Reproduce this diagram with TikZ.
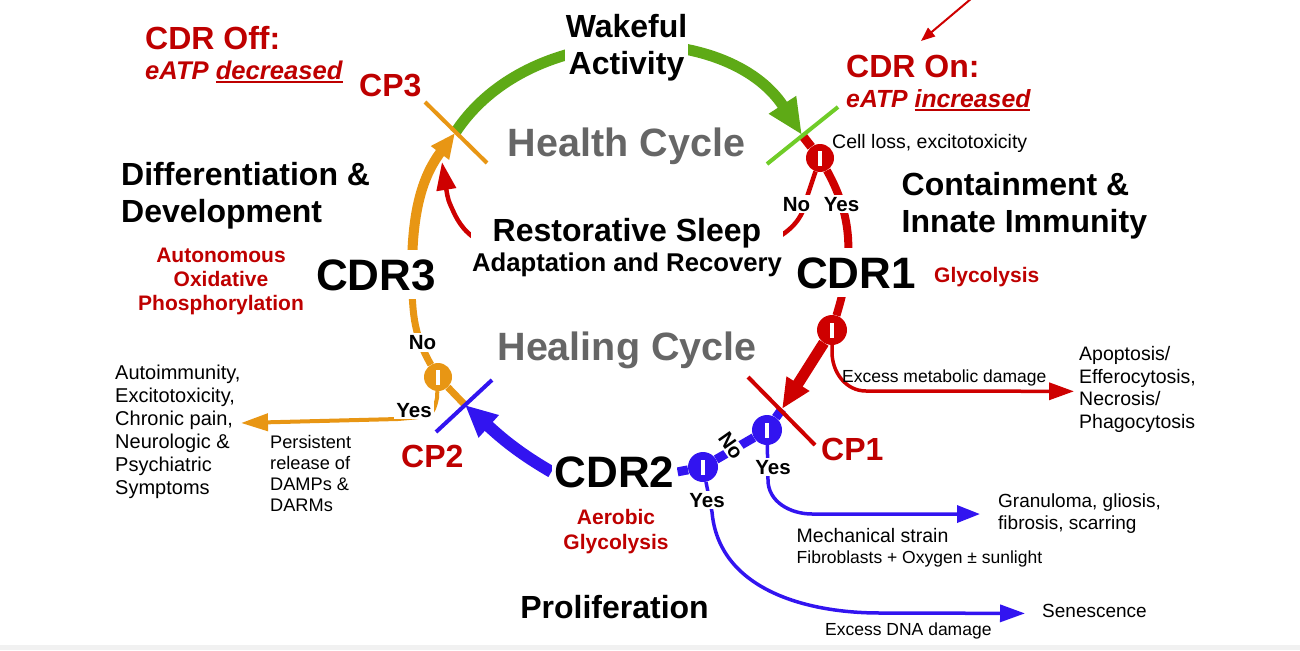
\documentclass[tikz,border=0pt]{standalone}
\usepackage{fontspec}
\setmainfont{Liberation Sans}
\usetikzlibrary{arrows.meta}
\pgfdeclarelayer{bg}
\pgfsetlayers{bg,main}
\definecolor{cred}{RGB}{206,0,0}
\definecolor{tred}{RGB}{190,0,0}
\definecolor{cgreen}{RGB}{94,170,22}
\definecolor{cgreenl}{RGB}{112,204,40}
\definecolor{corange}{RGB}{232,150,20}
\definecolor{cblue}{RGB}{50,20,240}
\definecolor{cgray}{RGB}{102,102,102}
\definecolor{band}{RGB}{241,241,241}
\newcommand{\FS}[2]{\fontsize{#1}{#2}\selectfont}
\newcommand{\myul}[1]{\setbox0=\hbox{#1}\rlap{\rule[-3pt]{\wd0}{1.8pt}}\box0}
\newcommand{\jbar}{\textcolor{white}{\rule[-7.5pt]{4pt}{15pt}}}
\begin{document}
\begin{tikzpicture}[x=1pt,y=1pt,
  txt/.style={inner sep=0pt},
  bigb/.style={inner sep=0pt, font=\bfseries\FS{32}{37}},
  redb/.style={inner sep=0pt, text=tred, font=\bfseries\FS{21}{23.8}},
  cdrn/.style={fill=white, inner xsep=3pt, inner ysep=9pt, font=\bfseries\FS{44}{48}},
  cpn/.style={inner sep=0pt, text=tred, font=\bfseries\FS{32}{36}},
  lbl/.style={fill=white, inner sep=2pt, font=\bfseries\FS{20.5}{24}},
  cyc/.style={inner sep=0pt, text=cgray, font=\bfseries\FS{39.5}{44}},
  jn/.style 2 args={circle, fill=#1, minimum size=#2, inner sep=0pt},
  cpline/.style={line width=4pt},
]
\useasboundingbox (0,0) rectangle (1300,-650);
\fill[band] (0,-645) rectangle (1300,-650);

% ---------- text nodes ----------
\node[cpn, anchor=base west] (cdroff) at (145,-50) {CDR Off:};
\node[txt, anchor=base west, text=tred, font=\bfseries\itshape\FS{25.6}{28}] (eatpd) at (145,-80) {eATP \myul{decreased}};
\node[cpn, anchor=base west] (cdron) at (846,-78) {CDR On:};
\node[txt, anchor=base west, text=tred, font=\bfseries\itshape\FS{24.8}{28}] (eatpi) at (846,-108) {eATP \myul{increased}};
\node[bigb, fill=white, inner sep=1pt, align=center, anchor=north] (wake) at (626.5,-13) {Wakeful\\Activity};
\node[cyc, anchor=base] (health) at (626.5,-157) {Health Cycle};
\node[txt, anchor=base west, font=\FS{19.5}{22}] (cell) at (832,-148) {Cell loss, excitotoxicity};
\node[bigb, align=left, anchor=north west] (contain) at (901.5,-172) {Containment \&\\Innate Immunity};
\node[cdrn, anchor=base] (cdr1) at (856,-288) {CDR1};
\node[redb, anchor=base west] (glyco) at (934,-282) {Glycolysis};
\node[bigb, align=left, anchor=north west] (diff) at (121,-162) {Differentiation \&\\Development};
\node[redb, align=center, anchor=north] (auton) at (221,-248) {Autonomous\\Oxidative\\Phosphorylation};
\node[cdrn, anchor=base] (cdr3) at (376,-290) {CDR3};
\node[fill=white, inner sep=1.5pt, align=center, anchor=north, font=\bfseries\FS{25.7}{30}] (rest) at (627,-217) {{\FS{32}{30}Restorative Sleep}\\Adaptation and Recovery};
\node[lbl, anchor=base] (nor) at (796.5,-211) {No};
\node[lbl, anchor=base] (yesr) at (841.5,-211) {Yes};
\node[cyc, anchor=base] (heal) at (627,-360) {Healing Cycle};
\node[cpn, anchor=base west] (cp3) at (359,-97) {CP3};
\node[cpn, anchor=base west] (cp1) at (821,-460) {CP1};
\node[cpn, anchor=base west] (cp2) at (401,-467) {CP2};
\node[lbl, anchor=base] (noo) at (422.5,-349.5) {No};
\node[lbl, anchor=base] (yeso) at (414,-417) {Yes};
\node[txt, align=left, anchor=north west, font=\FS{20}{23}] (auto) at (115,-365) {Autoimmunity,\\Excitotoxicity,\\Chronic pain,\\Neurologic \&\\Psychiatric\\Symptoms};
\node[txt, align=left, anchor=north west, font=\FS{18.2}{21}] (pers) at (270,-435) {Persistent\\release of\\DAMPs \&\\DARMs};
\node[txt, anchor=base west, font=\FS{17.5}{20}] (excm) at (842,-382) {Excess metabolic damage};
\node[txt, align=left, anchor=north west, font=\FS{19.5}{22.7}] (apop) at (1079,-346) {Apoptosis/\\Efferocytosis,\\Necrosis/\\Phagocytosis};
\node[txt, align=left, anchor=north west, font=\FS{19}{22}] (gran) at (998,-494) {Granuloma, gliosis,\\fibrosis, scarring};
\node[txt, align=left, anchor=north west, font=\FS{17.5}{21}] (mech) at (796.5,-528) {{\FS{19.5}{21}Mechanical strain}\\Fibroblasts + Oxygen ± sunlight};
\node[txt, anchor=base west, font=\FS{17.5}{20}] (excd) at (825,-635) {Excess DNA damage};
\node[txt, anchor=base west, font=\FS{19}{22}] (sen) at (1042,-617) {Senescence};
\node[cdrn, anchor=base, inner ysep=3pt] (cdr2) at (614.5,-487) {CDR2};
\node[redb, align=center, anchor=north, font=\bfseries\FS{21}{25.5}] (aer) at (616,-509) {Aerobic\\Glycolysis};
\node[bigb, anchor=base] (prol) at (614.5,-618) {Proliferation};
\node[lbl, rotate=-55, inner sep=1.5pt] (nob) at (731,-446) {No};
\node[lbl, anchor=base] (yesb2) at (773,-474) {Yes};
\node[lbl, anchor=base] (yesb1) at (707,-507) {Yes};

% ---------- junctions ----------
\node[jn={cred}{28pt}] (j1) at (820,-158) {\jbar};
\node[jn={cred}{30pt}] (j2) at (832,-330) {\jbar};
\node[jn={cblue}{30pt}] (b1) at (703,-467) {\jbar};
\node[jn={cblue}{30pt}] (b2) at (767,-430) {\jbar};
\node[jn={corange}{28pt}] (o1) at (438,-377) {\jbar};

% ---------- crossing points ----------
\coordinate (x3) at (455,-133);
\coordinate (x0) at (802,-135);
\coordinate (x2) at (465,-405);
\coordinate (x1) at (782,-409);
\coordinate (oc) at (412,-272);
\coordinate (stip) at (442,-162);
\coordinate (atip) at (241,-423);
\coordinate (ts) at (972,2);
\coordinate (te) at (921,-41);

\draw[cpline, corange] (425,-102) -- (487,-163);
\draw[cpline, cgreenl] (767,-164) -- (838,-107);
\draw[cpline, cblue] (436,-432) -- (492,-380);
\draw[cpline, cred] (748,-377) -- (815,-445);

% ---------- connectors ----------
\begin{pgfonlayer}{bg}
\draw[cgreen, line width=11pt, -{Triangle[length=36pt,width=30pt]}] (x3) to[out=57,in=123] (x0);
\draw[cred, line width=9pt] (x0) -- (j1);
\draw[cred, line width=8pt] (j1) to[out=-61,in=73] (j2);
\draw[cred, line width=11pt, -{Triangle[length=30pt,width=25pt]}] (j2) -- (x1);
\draw[cred, line width=4.5pt, -{Triangle[length=28pt,width=19pt]}] (j1) -- (806,-200) .. controls (800,-235) and (760,-262) .. (627,-262) .. controls (490,-262) and (468,-240) .. (455,-215) .. controls (448,-200) .. (stip);
\draw[cblue, line width=9pt] (x1) -- (b2) -- (b1) -- (cdr2.east);
\draw[cblue, line width=12pt, -{Triangle[length=32pt,width=28pt]}] (cdr2.west) to[out=150,in=-42] (x2);
\draw[corange, line width=7pt] (x2) -- (o1) to[out=120,in=-90] (oc);
\draw[corange, line width=10pt, -{Triangle[length=25pt,width=21pt]}] (oc) to[out=90,in=-127] (x3);
\draw[cred, line width=3.5pt, -{Triangle[length=25pt,width=17pt]}, shorten >=5pt] (j2) -- (832,-352) to[out=-90,in=180] (866,-391) -- ([yshift=-2pt]apop.west);
\draw[cblue, line width=3.5pt, -{Triangle[length=23pt,width=17pt]}, shorten >=18pt] (b2) -- (768,-480) to[out=-90,in=180] (812,-514) -- (gran.west);
\draw[cblue, line width=3.5pt, -{Triangle[length=25pt,width=17pt]}, shorten >=17pt] (b1) -- (712,-512) to[out=-85,in=180] (880,-613) -- ([yshift=-3pt]sen.west);
\draw[corange, line width=4pt, -{Triangle[length=27pt,width=17pt]}] (o1) -- (437,-398) .. controls (433,-416) .. (398,-419) -- (atip);
\draw[cred, line width=2pt, -{Triangle[length=14pt,width=11pt]}] (ts) -- (te);
\end{pgfonlayer}
\end{tikzpicture}
\end{document}
